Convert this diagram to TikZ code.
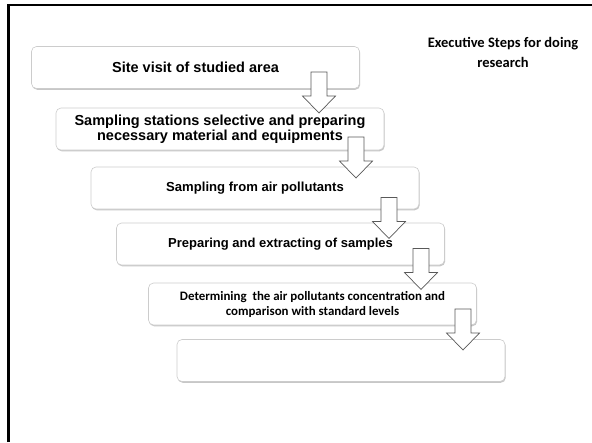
\documentclass[tikz,border=0pt]{standalone}
\usepackage{fontspec}
\setmainfont{Liberation Sans}
\newfontfamily\calibrifont{Carlito}
\usetikzlibrary{shadows}

\begin{document}
\begin{tikzpicture}[x=1pt,y=-1pt,
  stepbox/.style={draw=black!20, line width=0.6pt, fill=white,
    rounded corners=5pt, minimum width=328pt, minimum height=42pt,
    inner sep=0pt, align=center, font=\bfseries,
    drop shadow={shadow xshift=0.7pt, shadow yshift=-1.3pt,
      fill=black!40, opacity=0.55}},
  arrowline/.style={draw=black!65, line width=0.7pt, fill=white, line join=miter},
  downarrow/.pic={
    \path[arrowline] (-8,0) -- (8,0) -- (8,24) -- (16.5,24) -- (0,41)
      -- (-16.5,24) -- (-8,24) -- cycle;
  }]

% page and frame
\path[use as bounding box, fill=white] (0,0) rectangle (592,442);
\draw[line width=2.6pt] (8.6,442) -- (8.6,4.8) -- (592,4.8);

% title
\node[font=\calibrifont\bfseries\fontsize{14.5}{20}\selectfont, align=center]
  (title) at (503,52) {Executive Steps for doing\\research};

% steps
\node[stepbox, font=\bfseries\fontsize{14.5}{15}\selectfont] (s1) at (195.5,67.5)
  {Site visit of studied area};
\node[stepbox, font=\bfseries\fontsize{14.5}{15}\selectfont] (s2) at (220,129)
  {Sampling stations selective and preparing\\necessary material and equipments};
\node[stepbox, font=\bfseries\fontsize{13.1}{15}\selectfont] (s3) at (255,188)
  {Sampling from air pollutants};
\node[stepbox, font=\bfseries\fontsize{13}{15}\selectfont] (s4) at (280.5,244)
  {Preparing and extracting of samples};
\node[stepbox, font=\calibrifont\bfseries\fontsize{12.9}{15}\selectfont] (s5) at (312.5,304)
  {Determining\ \ the air pollutants concentration and\\comparison with standard levels};
\node[stepbox] (s6) at (341,360.5) {};

% block arrows between the steps
\pic (a1) at (319,72) {downarrow};
\pic (a2) at (356,137) {downarrow};
\pic (a3) at (389,197.5) {downarrow};
\pic (a4) at (421,248.5) {downarrow};
\pic (a5) at (463,309) {downarrow};
\end{tikzpicture}
\end{document}
